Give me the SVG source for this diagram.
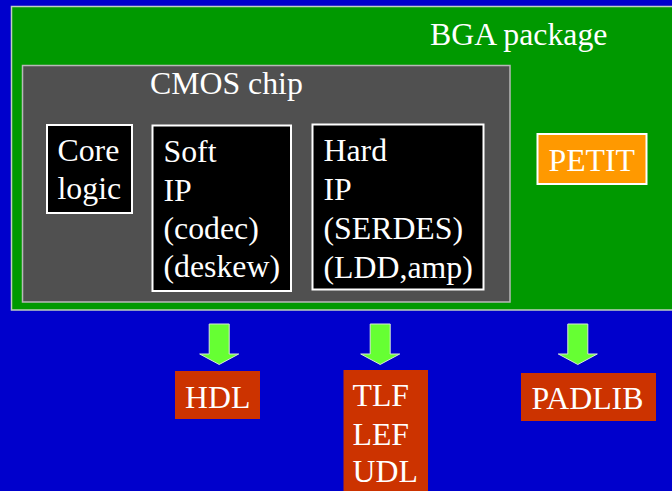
<svg xmlns="http://www.w3.org/2000/svg" width="672" height="491" viewBox="0 0 672 491">
  <defs>
    <style>
      .pkg { fill: #009900; stroke: #c0d0c0; stroke-width: 1.5; }
      .chip { fill: #505050; stroke: #b8b8b8; stroke-width: 1.5; }
      .block { fill: #000000; stroke: #ffffff; stroke-width: 2; }
      .pad { fill: #ff9900; stroke: #ffffff; stroke-width: 2; }
      .out { fill: #cc3300; }
      .arrow { fill: #66ff33; stroke: #d8e8d8; stroke-width: 1; }
    </style>
    <path id="down-arrow" d="M -10 0 H 10 V 30 H 19.5 L 0 40.5 L -19.5 30 H -10 Z"/>
  </defs>

  <!-- background -->
  <rect x="0" y="0" width="672" height="491" fill="#0000cc"/>

  <g font-family="'Liberation Serif', 'Times New Roman', serif" font-size="31.8" fill="#ffffff">
    <g id="bga-package">
      <rect class="pkg" x="11.5" y="6.5" width="670" height="303.5"/>
      <text x="430" y="45">BGA package</text>
    </g>

    <g id="cmos-chip">
      <rect class="chip" x="22.5" y="65.5" width="487.5" height="236.5"/>
      <text x="150" y="94">CMOS chip</text>
    </g>

    <g id="core-logic">
      <rect class="block" x="47" y="125" width="85" height="88"/>
      <text x="57.5" y="160.5">Core</text>
      <text x="57.5" y="198.5">logic</text>
    </g>

    <g id="soft-ip">
      <rect class="block" x="152.5" y="125.5" width="138.5" height="165.5"/>
      <text x="163.5" y="162">Soft</text>
      <text x="163.5" y="200.5">IP</text>
      <text x="163.5" y="239">(codec)</text>
      <text x="163.5" y="277">(deskew)</text>
    </g>

    <g id="hard-ip">
      <rect class="block" x="312.5" y="124.5" width="171" height="165"/>
      <text x="323.5" y="161">Hard</text>
      <text x="323.5" y="200">IP</text>
      <text x="323.5" y="239">(SERDES)</text>
      <text x="323.5" y="278">(LDD,amp)</text>
    </g>

    <g id="petit">
      <rect class="pad" x="537.5" y="134" width="109" height="50"/>
      <text x="548.5" y="170.5">PETIT</text>
    </g>

    <g id="connectors">
      <use href="#down-arrow" class="arrow" x="219.2" y="324"/>
      <use href="#down-arrow" class="arrow" x="380.2" y="324"/>
      <use href="#down-arrow" class="arrow" x="577.8" y="324"/>
    </g>

    <g id="hdl">
      <rect class="out" x="175" y="371" width="85" height="48"/>
      <text x="185" y="407.5">HDL</text>
    </g>

    <g id="tlf-lef-udl">
      <rect class="out" x="343.5" y="370" width="84.5" height="125"/>
      <text x="352.5" y="406">TLF</text>
      <text x="352.5" y="444.5">LEF</text>
      <text x="352.5" y="482">UDL</text>
    </g>

    <g id="padlib">
      <rect class="out" x="521" y="373" width="135" height="48"/>
      <text x="531.5" y="409">PADLIB</text>
    </g>
  </g>
</svg>
